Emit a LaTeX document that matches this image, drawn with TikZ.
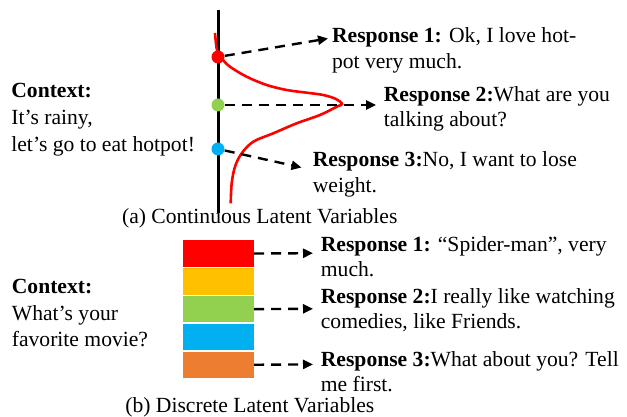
\documentclass[tikz,border=0pt]{standalone}
\usepackage{fontspec}
\setmainfont{Liberation Serif}
\usetikzlibrary{arrows.meta}
\definecolor{cgreen}{HTML}{92D050}
\definecolor{cblue}{HTML}{00B0F0}
\definecolor{cyellow}{HTML}{FFC000}
\definecolor{corange}{HTML}{ED7D31}
\begin{document}
\begin{tikzpicture}[x=0.5pt,y=-0.5pt,
 txt/.style={anchor=base west, inner sep=0pt, align=left, font=\fontsize{10.8}{12.75}\selectfont},
 ctx/.style={anchor=base west, inner sep=0pt, align=left, font=\fontsize{10.8}{13.4}\selectfont},
 darr/.style={dash pattern=on 5pt off 3.5pt, line width=1.2pt, -{Triangle[length=5pt,width=4.5pt]}},
 dot/.style={circle, inner sep=0pt, minimum size=6.5pt},
 bar/.style={minimum width=35.5pt, minimum height=13.15pt, inner sep=0pt, anchor=north west}
]
\useasboundingbox (0,0) rectangle (627,417);

% (a) continuous
\coordinate (axtop) at (218,10);
\coordinate (axbot) at (218,213);
\draw[line width=1.5pt] (axtop) -- (axbot);
\draw[red, line width=1.3pt] plot[smooth, tension=0.55] coordinates {
 (215,33) (217,50) (221.7,58.3) (230,66.7) (246.7,76.7) (266.7,85) (286.7,90) (306.7,92.7) (323.3,95) (336,99) (342,104)
 (336.7,106.7) (320,115) (296.7,123.3) (273.3,133.3) (253.3,141.7) (241.7,153.3) (235,166.7) (231.7,183.3) (230.7,203.3)};

\node[dot, fill=red] (d1) at (218,57) {};
\node[dot, fill=cgreen] (d2) at (218,105) {};
\node[dot, fill=cblue] (d3) at (218,149) {};

\coordinate (e1) at (328,38.5);
\coordinate (e2) at (376,105);
\coordinate (e3) at (301.5,167.5);
\draw[darr] (d1) -- (e1);
\draw[darr] (d2) -- (e2);
\draw[darr] (d3) -- (e3);

\node[txt] (r1) at (331.7,68.5) {\textbf{Response 1:} Ok, I love hot-\\pot very much.};
\node[txt] (r2) at (383.5,126.5) {\textbf{Response 2:}What are you\\talking about?};
\node[txt] (r3) at (312.5,192) {\textbf{Response 3:}No, I want to lose\\weight.};
\node[ctx] (ca) at (11,151.3) {\textbf{Context:}\\It’s rainy,\\let’s go to eat hotpot!};
\node[txt] (capa) at (121.7,223) {(a) Continuous Latent Variables};

% (b) discrete
\node[bar, fill=red] (b1) at (182.3,240) {};
\node[bar, fill=cyellow] (b2) at (182.3,267.8) {};
\node[bar, fill=cgreen] (b3) at (182.3,295.6) {};
\node[bar, fill=cblue] (b4) at (182.3,323.4) {};
\node[bar, fill=corange] (b5) at (182.3,351.2) {};

\coordinate (f1) at (313,253.2);
\coordinate (f2) at (313,308.8);
\coordinate (f3) at (313,364.4);
\draw[darr] (b1.east) -- (f1);
\draw[darr] (b3.east) -- (f2);
\draw[darr] (b5.east) -- (f3);

\node[txt] (s1) at (320.5,276.5) {\textbf{Response 1:} “Spider-man”, very\\much.};
\node[txt] (s2) at (320.5,328.8) {\textbf{Response 2:}I really like watching\\comedies, like Friends.};
\node[txt] (s3) at (320.5,391.5) {\textbf{Response 3:}What about you? Tell\\me first.};
\node[ctx] (cb) at (11.5,346.9) {\textbf{Context:}\\What’s your\\favorite movie?};
\node[txt] (capb) at (125,412) {(b) Discrete Latent Variables};
\end{tikzpicture}
\end{document}
